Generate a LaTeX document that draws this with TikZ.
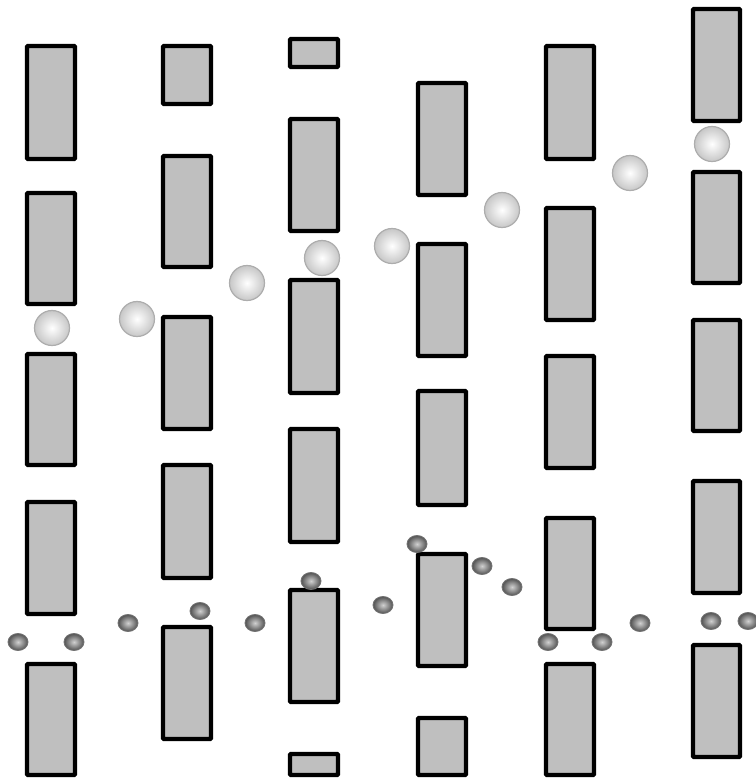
\documentclass[tikz,border=0pt]{standalone}
\usepackage{tikz}

\begin{document}
\begin{tikzpicture}[
  x=0.02cm,y=-0.02cm,
  slab/.style={draw=black,fill=black!25,line width=2.5pt,rounded corners=0.6pt},
  bigion/.style={draw=black!32,line width=0.7pt,inner color=white,outer color=black!22},
  smallion/.style={draw=black!55,line width=0.5pt,inner color=black!18,outer color=black!68},
]
\useasboundingbox (0,0) rectangle (755,778);

\draw[slab] (27,46) rectangle (75,159);
\draw[slab] (27,193) rectangle (75,304);
\draw[slab] (27,354) rectangle (75,465);
\draw[slab] (27,502) rectangle (75,614);
\draw[slab] (27,664) rectangle (75,775);

\draw[slab] (163,46) rectangle (211,104);
\draw[slab] (163,156) rectangle (211,267);
\draw[slab] (163,317) rectangle (211,429);
\draw[slab] (163,465) rectangle (211,578);
\draw[slab] (163,627) rectangle (211,739);

\draw[slab] (290,39) rectangle (338,67);
\draw[slab] (290,119) rectangle (338,231);
\draw[slab] (290,280) rectangle (338,393);
\draw[slab] (290,429) rectangle (338,542);
\draw[slab] (290,590) rectangle (338,702);
\draw[slab] (290,754) rectangle (338,775);

\draw[slab] (418,83) rectangle (466,195);
\draw[slab] (418,244) rectangle (466,356);
\draw[slab] (418,391) rectangle (466,505);
\draw[slab] (418,554) rectangle (466,666);
\draw[slab] (418,718) rectangle (466,775);

\draw[slab] (546,46) rectangle (594,159);
\draw[slab] (546,208) rectangle (594,320);
\draw[slab] (546,356) rectangle (594,468);
\draw[slab] (546,518) rectangle (594,629);
\draw[slab] (546,664) rectangle (594,775);

\draw[slab] (693,9) rectangle (740,121);
\draw[slab] (693,172) rectangle (740,283);
\draw[slab] (693,320) rectangle (740,431);
\draw[slab] (693,481) rectangle (740,593);
\draw[slab] (693,645) rectangle (740,757);

\shade[bigion] (52,328) circle (17.5);
\shade[bigion] (137,319) circle (17.5);
\shade[bigion] (247,283) circle (17.5);
\shade[bigion] (322,258) circle (17.5);
\shade[bigion] (392,246) circle (17.5);
\shade[bigion] (502,210) circle (17.5);
\shade[bigion] (630,173) circle (17.5);
\shade[bigion] (712,144) circle (17.5);

\shade[smallion] (18,642) ellipse (10 and 8.5);
\shade[smallion] (74,642) ellipse (10 and 8.5);
\shade[smallion] (128,623) ellipse (10 and 8.5);
\shade[smallion] (200,611) ellipse (10 and 8.5);
\shade[smallion] (255,623) ellipse (10 and 8.5);
\shade[smallion] (311,581) ellipse (10 and 8.5);
\shade[smallion] (383,605) ellipse (10 and 8.5);
\shade[smallion] (417,544) ellipse (10 and 8.5);
\shade[smallion] (482,566) ellipse (10 and 8.5);
\shade[smallion] (512,587) ellipse (10 and 8.5);
\shade[smallion] (548,642) ellipse (10 and 8.5);
\shade[smallion] (602,642) ellipse (10 and 8.5);
\shade[smallion] (640,623) ellipse (10 and 8.5);
\shade[smallion] (711,621) ellipse (10 and 8.5);
\shade[smallion] (748,621) ellipse (10 and 8.5);
\end{tikzpicture}
\end{document}
